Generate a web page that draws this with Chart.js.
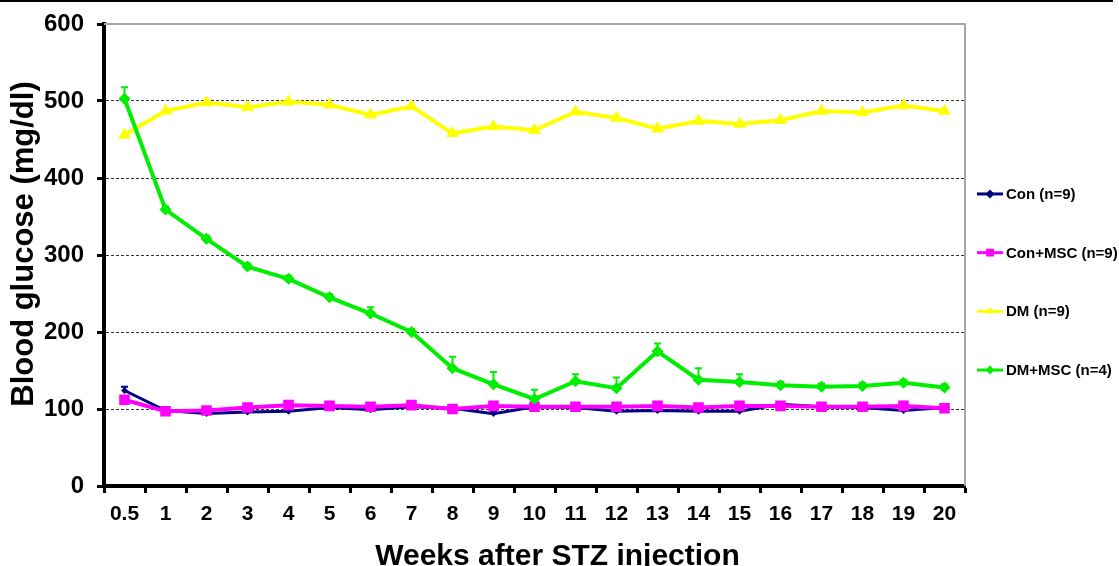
<!DOCTYPE html>
<html>
<head>
<meta charset="utf-8">
<script src="https://cdn.jsdelivr.net/npm/chart.js@4.4.1/dist/chart.umd.min.js"></script>
<style>
  html, body { margin: 0; padding: 0; background: #fff; overflow: hidden; }
  canvas { display: block; }
</style>
</head>
<body>
<canvas id="glucose" width="1119" height="566"></canvas>
<script>
// Weeks after STZ injection
const weeks = ['0.5', '1', '2', '3', '4', '5', '6', '7', '8', '9', '10',
               '11', '12', '13', '14', '15', '16', '17', '18', '19', '20'];

// Mean blood glucose (mg/dl) per group
const con    = [124, 98, 94, 96, 97, 102, 99, 103, 101, 94, 103, 102, 97, 98, 97, 97, 106, 103, 102, 98, 102];
const conMsc = [112, 97, 98, 102, 105, 104, 103, 105, 100, 104, 103, 103, 103, 104, 102, 104, 104, 103, 103, 104, 101];
const dm     = [456, 487, 498, 492, 499, 495, 482, 493, 458, 467, 462, 486, 478, 464, 474, 470, 475, 487, 485, 494, 487];
const dmMsc  = [503, 359, 321, 285, 269, 245, 224, 200, 153, 132, 113, 136, 127, 175, 138, 135, 131, 129, 130, 134, 128];

// Upper error bars (SE)
const conErr   = [5, 2, 2, 2, 2, 2, 2, 2, 2, 2, 2, 2, 2, 2, 2, 2, 2, 2, 2, 2, 2];
const dmMscErr = [15, 4, 4, 4, 4, 4, 8, 4, 15, 16, 12, 9, 14, 10, 15, 10, 4, 4, 4, 4, 4];

const yTicks = [0, 100, 200, 300, 400, 500, 600];

const xTitle = 'Weeks after STZ injection';
const yTitle = 'Blood glucose (mg/dl)';

const FONT = "'Liberation Sans', Arial, Helvetica, sans-serif";

const seriesMeta = [
  { label: 'Con (n=9)',     data: con,    err: conErr,   color: '#000080', style: 'rectRot',  radius: 3.5, lw: 3, order: 2 },
  { label: 'Con+MSC (n=9)', data: conMsc, err: null,     color: '#ff00ff', style: 'rect',     radius: 7.5, lw: 4, order: 1 },
  { label: 'DM (n=9)',      data: dm,     err: null,     color: '#ffff00', style: 'triangle', radius: 7.5, lw: 4, order: 3 },
  { label: 'DM+MSC (n=4)',  data: dmMsc,  err: dmMscErr, color: '#00ee00', style: 'rectRot',  radius: 6,   lw: 4, order: 0 }
];

// Small marker painter for the legend samples
function paintMarker(ctx, style, x, y, r) {
  ctx.beginPath();
  if (style === 'rect') {
    const s = Math.SQRT1_2 * r;
    ctx.rect(x - s, y - s, 2 * s, 2 * s);
  } else if (style === 'rectRot') {
    ctx.moveTo(x, y - r); ctx.lineTo(x + r, y); ctx.lineTo(x, y + r); ctx.lineTo(x - r, y);
    ctx.closePath();
  } else if (style === 'triangle') {
    ctx.moveTo(x, y - r);
    ctx.lineTo(x + r * Math.sin(Math.PI / 3), y + r * 0.5);
    ctx.lineTo(x - r * Math.sin(Math.PI / 3), y + r * 0.5);
    ctx.closePath();
  }
  ctx.fill();
}

// Error bars, drawn beneath the lines
const errorBars = {
  id: 'errorBars',
  beforeDatasetsDraw(chart) {
    const { ctx, scales: { x, y } } = chart;
    ctx.save();
    chart.data.datasets.forEach((ds, i) => {
      const meta = seriesMeta[i];
      if (!meta.err) return;
      ctx.strokeStyle = meta.color;
      ctx.lineWidth = 2;
      ds.data.forEach((v, j) => {
        const px = x.getPixelForValue(j);
        const y0 = y.getPixelForValue(v);
        const y1 = y.getPixelForValue(v + meta.err[j]);
        ctx.beginPath();
        ctx.moveTo(px, y0); ctx.lineTo(px, y1);
        ctx.moveTo(px - 3.5, y1); ctx.lineTo(px + 3.5, y1);
        ctx.stroke();
      });
    });
    ctx.restore();
  }
};

// Grey top/right frame, axis titles, black rule at the page top, and the legend
const frameAndLegend = {
  id: 'frameAndLegend',
  beforeDatasetsDraw(chart) {
    const { ctx, chartArea: a } = chart;
    ctx.save();
    ctx.strokeStyle = '#a6a6a6';
    ctx.lineWidth = 2;
    ctx.beginPath();
    ctx.moveTo(a.left, a.top);
    ctx.lineTo(a.right, a.top);
    ctx.lineTo(a.right, a.bottom);
    ctx.stroke();
    ctx.restore();
  },
  afterDraw(chart) {
    const { ctx, chartArea: a, width, height } = chart;
    ctx.save();
    ctx.fillStyle = '#000';
    ctx.fillRect(0, 0, width - 6, 2);

    // axis titles
    ctx.font = 'bold 30px ' + FONT;
    ctx.textAlign = 'center';
    ctx.textBaseline = 'alphabetic';
    ctx.fillText(xTitle, width / 2 - 2, height - 1);
    ctx.save();
    ctx.translate(33, 244);
    ctx.rotate(-Math.PI / 2);
    ctx.font = 'bold 31px ' + FONT;
    ctx.fillText(yTitle, 0, 0);
    ctx.restore();

    // legend
    const step = 58.7;
    const mid = height / 2 - 1;
    ctx.font = 'bold 15px ' + FONT;
    ctx.textAlign = 'left';
    ctx.textBaseline = 'middle';
    seriesMeta.forEach((m, i) => {
      const cy = mid + (i - 1.5) * step;
      const x0 = a.right + 12, x1 = a.right + 38;
      ctx.strokeStyle = m.color;
      ctx.lineWidth = 3;
      ctx.beginPath();
      ctx.moveTo(x0, cy); ctx.lineTo(x1, cy);
      ctx.stroke();
      ctx.fillStyle = m.color;
      paintMarker(ctx, m.style, (x0 + x1) / 2, cy, m.style === 'rect' ? 5.5 : 4.5);
      ctx.fillStyle = '#000';
      ctx.fillText(m.label, x1 + 3, cy + 1);
    });
    ctx.restore();
  }
};

new Chart(document.getElementById('glucose'), {
  type: 'line',
  data: {
    labels: weeks,
    datasets: seriesMeta.map(m => ({
      label: m.label,
      data: m.data,
      borderColor: m.color,
      backgroundColor: m.color,
      borderWidth: m.lw,
      pointStyle: m.style,
      pointRadius: m.radius,
      pointHoverRadius: m.radius,
      pointBorderWidth: 0,
      pointBackgroundColor: m.color,
      tension: 0,
      fill: false,
      order: m.order
    }))
  },
  options: {
    responsive: false,
    devicePixelRatio: 1,
    animation: false,
    events: [],
    layout: { padding: { top: 24, right: 154, left: 0, bottom: 0 } },
    plugins: {
      legend: { display: false },
      tooltip: { enabled: false }
    },
    scales: {
      x: {
        type: 'category',
        offset: true,
        grid: {
          display: true,
          offset: true,
          drawOnChartArea: false,
          drawTicks: true,
          tickLength: 7,
          tickWidth: 3,
          tickColor: '#000'
        },
        border: { display: true, color: '#000', width: 4 },
        ticks: {
          color: '#000',
          padding: 9,
          maxRotation: 0,
          autoSkip: false,
          font: { family: FONT, size: 21, weight: 'bold' }
        },
        afterFit(scale) { scale.height = 80; }
      },
      y: {
        min: 0,
        max: 600,
        afterBuildTicks(scale) { scale.ticks = yTicks.map(v => ({ value: v })); },
        grid: {
          color: c => (c.tick && c.tick.value === 600) ? 'rgba(0,0,0,0)' : '#333',
          lineWidth: 1,
          drawTicks: true,
          tickLength: 7,
          tickWidth: 3,
          tickColor: '#000'
        },
        border: { display: true, color: '#000', width: 4, dash: [3, 2] },
        ticks: {
          color: '#000',
          padding: 13,
          font: { family: FONT, size: 24, weight: 'bold', lineHeight: 1 }
        },
        afterFit(scale) {
          scale.width = 104;
          scale.paddingTop = 0;
          scale.paddingBottom = 0;
        }
      }
    }
  },
  plugins: [errorBars, frameAndLegend]
});
</script>
</body>
</html>
